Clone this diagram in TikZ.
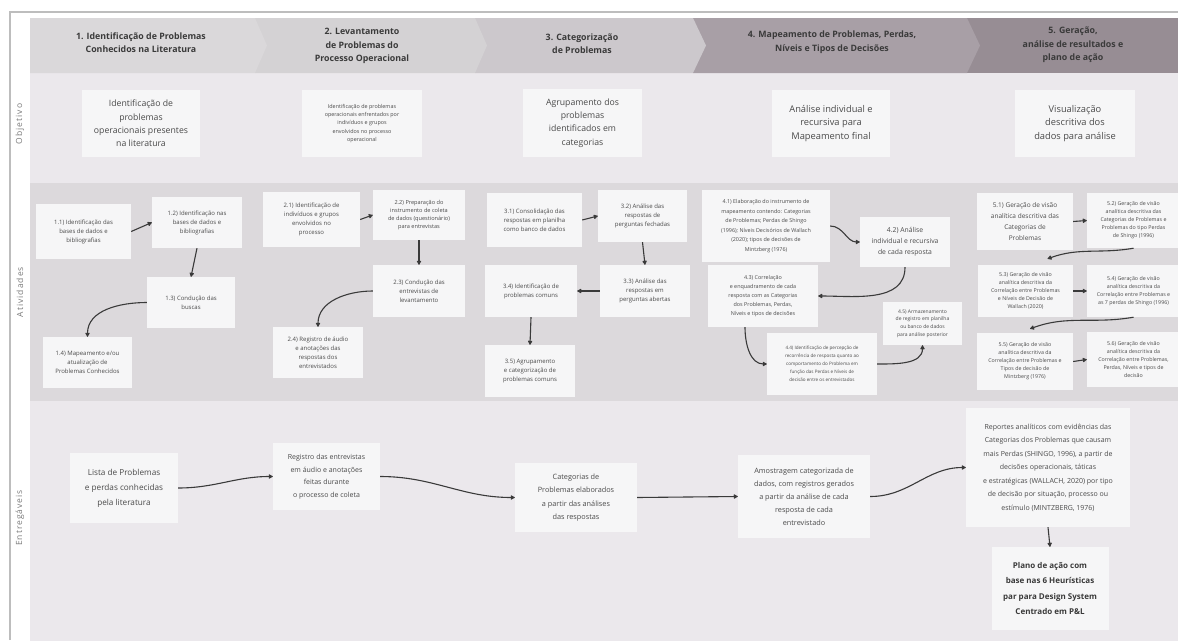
\documentclass[tikz,border=0pt]{standalone}
\usepackage{fontspec}
\setmainfont{Open Sans}
\usetikzlibrary{arrows.meta,calc}

\definecolor{frameline}{HTML}{BDBDBD}
\definecolor{hdrA}{HTML}{DAD8DA}
\definecolor{hdrB}{HTML}{D4D2D4}
\definecolor{hdrC}{HTML}{CCC8CC}
\definecolor{hdrD}{HTML}{A89FA6}
\definecolor{hdrE}{HTML}{978D94}
\definecolor{rowlight}{HTML}{EBE8EC}
\definecolor{rowdark}{HTML}{DCD9DC}
\definecolor{boxfill}{HTML}{F6F6F7}
\definecolor{txt}{HTML}{4A4A4A}
\definecolor{hdrtxt}{HTML}{3A3A3A}
\definecolor{arrowc}{HTML}{3A3A3A}
\definecolor{lbl}{HTML}{7A7A7A}

\tikzset{
  card/.style={fill=boxfill, text=txt, align=center, inner sep=2pt},
  objbox/.style={card, font=\fontsize{8.7}{13.3}\selectfont},
  actbox/.style={card, font=\fontsize{6}{9}\selectfont},
  smallbox/.style={card, font=\fontsize{5.3}{8}\selectfont},
  delbox/.style={card, font=\fontsize{7.6}{13.3}\selectfont},
  hdr/.style={text=hdrtxt, align=center, font=\bfseries\fontsize{8.8}{13.5}\selectfont},
  rowlabel/.style={text=lbl, rotate=90, font=\fontsize{8.5}{9}\selectfont\addfontfeature{LetterSpace=12}},
  conn/.style={draw=arrowc, line width=1.1pt, -{Latex[length=5pt,width=5.5pt,round]}},
}

\begin{document}
\begin{tikzpicture}[x=1pt, y=-1pt]
\useasboundingbox (0,0) rectangle (1178,640);
\fill[white] (0,0) rectangle (1178,640);

% row bands
\fill[rowlight] (30,73) rectangle (1185,183);
\fill[rowdark]  (30,183) rectangle (1185,401);
\fill[rowlight] (30,401) rectangle (1185,645);

% header chevrons, right to left so each tip lies on its neighbour
\fill[hdrE] (967,18) -- (1185,18) -- (1185,73) -- (967,73) -- cycle;
\fill[hdrD] (693,18) -- (967,18) -- (980,45.5) -- (967,73) -- (693,73) -- cycle;
\fill[hdrC] (475,18) -- (693,18) -- (706,45.5) -- (693,73) -- (475,73) -- cycle;
\fill[hdrB] (255,18) -- (475,18) -- (487,45.5) -- (475,73) -- (255,73) -- cycle;
\fill[hdrA] (30,18) -- (255,18) -- (267,45.5) -- (255,73) -- (30,73) -- cycle;

% outer frame
\draw[frameline, line width=1.2pt] (10,640) -- (10,12) -- (1178,12);

% row labels
\node[rowlabel] (LObj) at (20,124) {Objetivo};
\node[rowlabel] (LAtv) at (20,292) {Atividades};
\node[rowlabel] (LEnt) at (20,518) {Entregáveis};

% phase titles
\node[hdr] (H1) at (141,42.5) {1. Identificação de Problemas\\Conhecidos na Literatura};
\node[hdr] (H2) at (362,46) {2. Levantamento\\de Problemas do\\Processo Operacional};
\node[hdr] (H3) at (582,43.5) {3. Categorização\\de Problemas};
\node[hdr] (H4) at (832,42) {4. Mapeamento de Problemas, Perdas,\\Níveis e Tipos de Decisões};
\node[hdr] (H5) at (1073,45) {5. Geração,\\análise de resultados e\\plano de ação};

% objectives
\node[objbox, minimum width=118, minimum height=67] (O1) at (141,123.5) {Identificação de\\problemas\\operacionais presentes\\na literatura};
\node[smallbox, font=\fontsize{5.4}{8.3}\selectfont, minimum width=120, minimum height=67] (O2) at (362,123.5) {Identificação de problemas\\operacionais enfrentados por\\indivíduos e grupos\\envolvidos no processo\\operacional};
\node[objbox, minimum width=119, minimum height=68] (O3) at (582.5,123) {Agrupamento dos\\problemas\\identificados em\\categorias};
\node[objbox, font=\fontsize{9.3}{13.5}\selectfont, minimum width=118, minimum height=67] (O4) at (831,123.5) {Análise individual e\\recursiva para\\Mapeamento final};
\node[objbox, font=\fontsize{9.3}{13.5}\selectfont, minimum width=120, minimum height=67] (O5) at (1075,123.5) {Visualização\\descritiva dos\\dados para análise};

% activities, phase 1
\node[actbox, minimum width=95, minimum height=55] (A11) at (83.5,231.5) {1.1) Identificação das\\bases de dados e\\bibliografias};
\node[actbox, minimum width=90, minimum height=51] (A12) at (197,222.5) {1.2) Identificação nas\\bases de dados e\\bibliografias};
\node[actbox, minimum width=88, minimum height=51] (A13) at (191,302.5) {1.3) Condução das\\buscas};
\node[actbox, minimum width=89, minimum height=51] (A14) at (87.5,362.5) {1.4) Mapeamento e/ou\\atualização de\\Problemas Conhecidos};

% activities, phase 2
\node[actbox, minimum width=97, minimum height=55] (A21) at (311.5,219.5) {2.1) Identificação de\\indivíduos e grupos\\envolvidos no\\processo};
\node[actbox, font=\fontsize{5.6}{8.3}\selectfont, minimum width=92, minimum height=50] (A22) at (419,215) {2.2) Preparação do\\instrumento de coleta\\de dados (questionário)\\para entrevistas};
\node[actbox, minimum width=92, minimum height=52] (A23) at (419,291) {2.3) Condução das\\entrevistas de\\levantamento};
\node[actbox, minimum width=90, minimum height=51] (A24) at (318,352.5) {2.4) Registro de áudio\\e anotações das\\respostas dos\\entrevistados};

% activities, phase 3
\node[actbox, minimum width=95, minimum height=54] (A31) at (534.5,220) {3.1) Consolidação das\\respostas em planilha\\como banco de dados};
\node[actbox, minimum width=89, minimum height=52] (A32) at (642.5,216) {3.2) Análise das\\respostas de\\perguntas fechadas};
\node[actbox, minimum width=90, minimum height=52] (A33) at (645,291) {3.3) Análise das\\respostas em\\perguntas abertas};
\node[actbox, minimum width=92, minimum height=52] (A34) at (531,291) {3.4) Identificação de\\problemas comuns};
\node[actbox, minimum width=90, minimum height=52] (A35) at (530,371) {3.5) Agrupamento\\e categorização de\\problemas comuns};

% activities, phase 4
\node[smallbox, font=\fontsize{5.4}{9.5}\selectfont, minimum width=128, minimum height=72] (A41) at (766,226) {4.1) Elaboração do instrumento de\\mapeamento contendo: Categorias\\de Problemas; Perdas de Shingo\\(1996); Níveis Decisórios de Wallach\\(2020); tipos de decisões de\\Mintzberg (1976)};
\node[actbox, font=\fontsize{6.8}{11}\selectfont, minimum width=90, minimum height=50] (A42) at (905,242) {4.2) Análise\\individual e recursiva\\de cada resposta};
\node[smallbox, font=\fontsize{5.4}{9}\selectfont, minimum width=110, minimum height=62] (A43) at (763,296) {4.3) Correlação\\e enquadramento de cada\\resposta com as Categorias\\dos Problemas, Perdas,\\Níveis e tipos de decisões};
\node[smallbox, font=\fontsize{4.6}{8}\selectfont, minimum width=110, minimum height=62] (A44) at (822,364) {4.4) Identificação de percepção de\\recorrência de resposta quanto ao\\comportamento do Problema em\\função das Perdas e Níveis de\\decisão entre os entrevistados};
\node[smallbox, font=\fontsize{5}{7.6}\selectfont, minimum width=79, minimum height=43] (A45) at (922.5,323.5) {4.5) Armazenamento\\de registro em planilha\\ou banco de dados\\para análise posterior};

% activities, phase 5
\node[actbox, font=\fontsize{6.5}{11}\selectfont, minimum width=96, minimum height=57] (A51) at (1025,221.5) {5.1) Geração de visão\\analítica descritiva das\\Categorias de\\Problemas};
\node[smallbox, minimum width=93, minimum height=55] (A52) at (1133.5,220.5) {5.2) Geração de visão\\analítica descritiva das\\Categorias de Problemas e\\Problemas do tipo Perdas\\de Shingo (1996)};
\node[smallbox, minimum width=95, minimum height=52] (A53) at (1025.5,291) {5.3) Geração de visão\\analítica descritiva da\\Correlação entre Problemas\\e Níveis de Decisão de\\Wallach (2020)};
\node[smallbox, minimum width=93, minimum height=52] (A54) at (1133.5,291) {5.4) Geração de visão\\analítica descritiva da\\Correlação entre Problemas e\\as 7 perdas de Shingo (1996)};
\node[smallbox, minimum width=96, minimum height=57] (A55) at (1025,361.5) {5.5) Geração de visão\\analítica descritiva da\\Correlação entre Problemas e\\Tipos de decisão de\\Mintzberg (1976)};
\node[smallbox, minimum width=93, minimum height=55] (A56) at (1133.5,359.5) {5.6) Geração de visão\\analítica descritiva da\\Correlação entre Problemas,\\Perdas, Níveis e tipos de\\decisão};

% deliverables
\node[delbox, font=\fontsize{8.2}{15}\selectfont, minimum width=108, minimum height=70] (E1) at (124,488) {Lista de Problemas\\e perdas conhecidas\\pela literatura};
\node[delbox, font=\fontsize{7}{12.5}\selectfont, minimum width=107, minimum height=67] (E2) at (326.5,476.5) {Registro das entrevistas\\em áudio e anotações\\feitas durante\\o processo de coleta};
\node[delbox, font=\fontsize{7.3}{13.5}\selectfont, minimum width=122, minimum height=69] (E3) at (576,497.5) {Categorias de\\Problemas elaborados\\a partir das análises\\das respostas};
\node[delbox, font=\fontsize{7.3}{13}\selectfont, minimum width=132, minimum height=83] (E4) at (804,496.5) {Amostragem categorizada de\\dados, com registros gerados\\a partir da análise de cada\\resposta de cada\\entrevistado};
\node[delbox, font=\fontsize{7}{13.5}\selectfont, minimum width=164, minimum height=119] (E5) at (1048,467.5) {Reportes analíticos com evidências das\\Categorias dos Problemas que causam\\mais Perdas (SHINGO, 1996), a partir de\\decisões operacionais, táticas\\e estratégicas (WALLACH, 2020) por tipo\\de decisão por situação, processo ou\\estímulo (MINTZBERG, 1976)};
\node[delbox, font=\bfseries\fontsize{8}{15.5}\selectfont, text=hdrtxt, minimum width=117, minimum height=83] (E6) at (1050,588.5) {Plano de ação com\\base nas 6 Heurísticas\\par para Design System\\Centrado em P\&L};

% connectors, phase 1
\draw[conn] (A11.east) -- (A12.west);
\draw[conn] (A12.south) -- (A13.north);
\draw[conn] (A13.west) to[out=180,in=90] (A14.north);
% phase 2
\draw[conn] (A21.east) -- (A22.west);
\draw[conn] (A22.south) -- (A23.north);
\draw[conn] (A23.west) to[out=180,in=90] (A24.north);
% phase 3
\draw[conn] (A31.east) -- (A32.west);
\draw[conn] (A32.south) -- (A33.north);
\draw[conn] (A33.west) -- (A34.east);
\draw[conn] (A34.south) -- (A35.north);
% phase 4
\draw[conn] (A41.east) to[out=0,in=180] (A42.west);
\draw[conn] (A42.south) to[out=-90,in=0] (A43.east);
\draw[conn] ($(A43.south)+(-18,0)$) to[out=-90,in=180] (A44.west);
\draw[conn] (A44.east) to[out=0,in=-90] (A45.south);
% phase 5
\draw[conn] (A51.east) -- (A52.west);
\draw[conn] (A52.south) to[out=190,in=20] ($(A53.north)+(22,-6)$);
\draw[conn] (A53.east) -- (A54.west);
\draw[conn] (A54.south) to[out=190,in=20] ($(A55.north)+(5,-4)$);
\draw[conn] (A55.east) -- (A56.west);
% deliverables
\draw[conn] (E1.east) to[out=0,in=180] (E2.west);
\draw[conn] (E2.east) to[out=0,in=180] (E3.west);
\draw[conn] (E3.east) -- (E4.west);
\draw[conn] (E4.east) to[out=0,in=180] (E5.west);
\draw[conn] (E5.south) -- (E6.north);
\end{tikzpicture}
\end{document}
